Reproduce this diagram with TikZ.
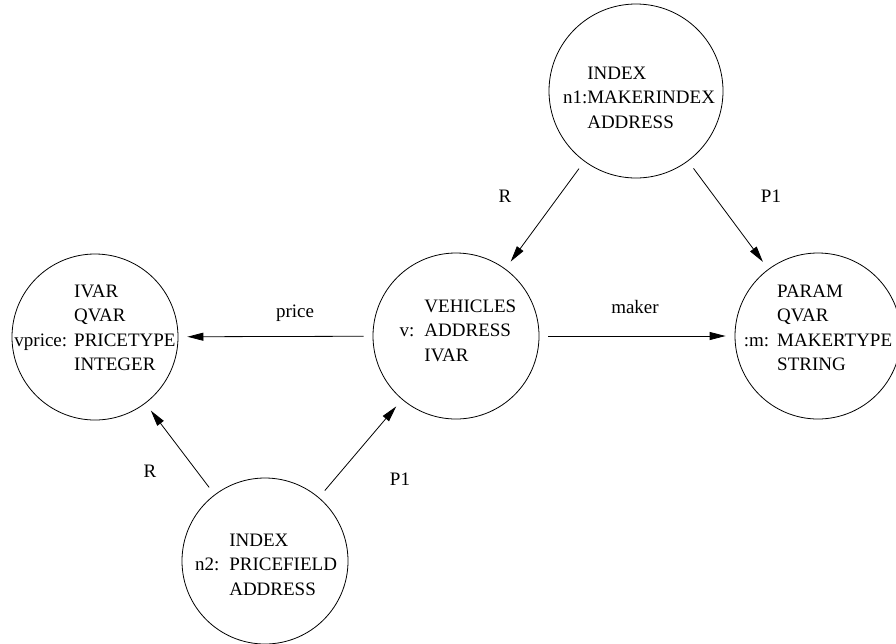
\documentclass[tikz,border=0pt]{standalone}
\usepackage{fontspec}
\setmainfont{Liberation Serif}
\usetikzlibrary{arrows.meta}
\begin{document}
\begin{tikzpicture}[x=1pt,y=-1pt,
  ring/.style={draw,circle,minimum size=166pt,inner sep=0pt,line width=0.8pt},
  body/.style={inner sep=0pt,font=\fontsize{19}{24.5}\selectfont},
  lbl/.style={inner sep=0pt,font=\fontsize{19}{24}\selectfont},
  link/.style={line width=0.8pt,-{Triangle[length=16pt,width=8pt]},shorten >=9pt,shorten <=9pt}]
\useasboundingbox (0,0) rectangle (896,643);

% record nodes
\node[ring,minimum size=174pt] (n1) at (636,91) {};
\node[ring] (vp)  at (95,337)  {};
\node[ring] (v)   at (456,336) {};
\node[ring] (m)   at (818,336) {};
\node[ring] (n2)  at (265,561) {};

% record contents
\node[body] (n1t) at (639,99) {\begin{tabular}{@{}r@{}l@{}}&INDEX\\n1:&MAKERINDEX\\&ADDRESS\end{tabular}};
\node[body] (vpt) at (95,329) {\begin{tabular}{@{}r@{\hspace{7pt}}l@{}}&IVAR\\&QVAR\\vprice:&PRICETYPE\\&INTEGER\end{tabular}};
\node[body] (vt)  at (458,332) {\begin{tabular}{@{}r@{\hspace{10pt}}l@{}}&VEHICLES\\v:&ADDRESS\\&IVAR\end{tabular}};
\node[body] (mt)  at (818,329) {\begin{tabular}{@{}r@{\hspace{8pt}}l@{}}&PARAM\\&QVAR\\:m:&MAKERTYPE\\&STRING\end{tabular}};
\node[body] (n2t) at (266,566) {\begin{tabular}{@{}r@{\hspace{10pt}}l@{}}&INDEX\\n2:&PRICEFIELD\\&ADDRESS\end{tabular}};

% links
\draw[link] (n1) -- (v);
\draw[link] (n1) -- (m);
\draw[link] (v) -- (vp);
\draw[link] (v) -- (m);
\draw[link] (n2) -- (vp);
\draw[link] (n2) -- (v);

% link labels
\node[lbl] (l1) at (505,196) {R};
\node[lbl] (l2) at (771,196) {P1};
\node[lbl] (l3) at (295,313) {price};
\node[lbl] (l4) at (635,307) {maker};
\node[lbl] (l5) at (150,471) {R};
\node[lbl] (l6) at (400,479) {P1};
\end{tikzpicture}
\end{document}
